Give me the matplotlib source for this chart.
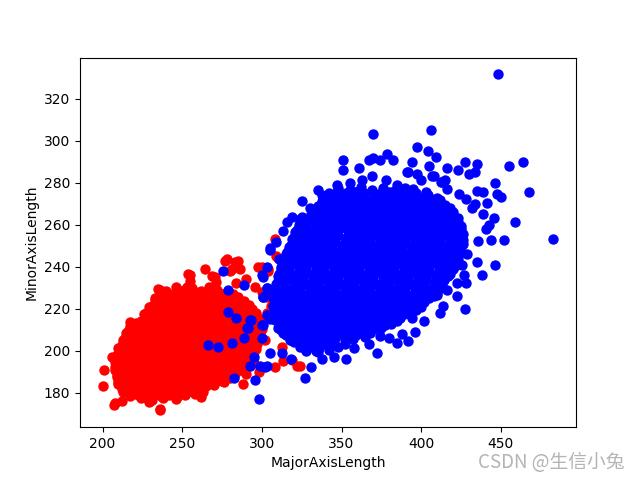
import matplotlib.pyplot as plt

# Kecimen (red) - dense core, row by row
red_core = [
    (235, 229.5), (240, 228.4), (246, 230.1), (251, 228.8), (256, 229.6), (262, 228.3), (267, 230.2), (272, 229),
    (234, 224.8), (239, 226.3), (244, 225.1), (250, 225.8), (255, 224.6), (260, 226.4), (265, 225.2),
    (270, 225.9), (275, 224.9), (280, 226.1), (285, 225.3),
    (231, 221.3), (236, 222.7), (241, 221.6), (246, 222.3), (251, 221.1), (257, 222.6), (262, 221.5),
    (267, 222.8), (272, 221.4), (277, 222.2), (282, 221.7), (287, 222.5), (292, 221.6),
    (227, 217.8), (232, 219.2), (237, 218.1), (242, 218.8), (247, 217.6), (252, 219.1), (257, 218.3),
    (262, 219.4), (267, 217.9), (272, 218.6), (277, 218), (282, 219.3), (287, 218.2), (292, 218.9), (296, 217.7),
    (224, 214.3), (229, 215.6), (234, 214.7), (239, 215.3), (244, 214.2), (249, 215.8), (254, 214.6),
    (259, 215.2), (264, 214.4), (269, 215.7), (274, 214.8), (279, 215.3), (284, 214.1), (289, 215.5), (294, 214.6),
    (298, 215.2),
    (217, 211.9), (222, 210.8), (227, 212.1), (232, 211.2), (237, 211.8), (242, 210.7), (247, 212.3), (252, 211.1),
    (257, 211.7), (262, 210.9), (267, 212.2), (272, 211.4), (277, 211.9), (282, 210.8), (287, 212), (292, 211.3),
    (297, 211.8),
    (215, 208.3), (220, 207.4), (225, 208.7), (230, 207.6), (235, 208.4), (240, 207.2), (245, 208.8), (250, 207.7),
    (255, 208.2), (260, 207.5), (265, 208.6), (270, 207.3), (275, 208.5), (280, 207.9), (285, 208.4), (290, 207.4),
    (295, 208.7), (299, 207.8),
    (213, 204.9), (218, 203.8), (223, 205.1), (228, 204.2), (233, 204.8), (238, 203.7), (243, 205.3), (248, 204.1),
    (253, 204.7), (258, 203.9), (263, 205.2), (268, 204.3), (273, 204.9), (278, 203.8), (283, 205), (288, 204.2),
    (293, 204.8), (297, 203.9),
    (211, 201.4), (216, 200.3), (221, 201.6), (226, 200.7), (231, 201.2), (236, 200.1), (241, 201.7), (246, 200.6),
    (251, 201.3), (256, 200.4), (261, 201.5), (266, 200.8), (271, 201.3), (276, 200.2), (281, 201.6), (286, 200.5),
    (291, 201.1), (296, 200.6),
    (209, 197.9), (214, 196.8), (219, 198.1), (224, 197.2), (229, 197.8), (234, 196.7), (239, 198.3), (244, 197.1),
    (249, 197.7), (254, 196.9), (259, 198.2), (264, 197.3), (269, 197.9), (274, 196.8), (279, 198), (284, 197.2),
    (289, 197.7), (294, 196.9),
    (208, 194.4), (213, 193.3), (218, 194.6), (223, 193.7), (228, 194.2), (233, 193.1), (238, 194.7), (243, 193.6),
    (248, 194.3), (253, 193.4), (258, 194.5), (263, 193.8), (268, 194.3), (273, 193.2), (278, 194.6), (283, 193.5),
    (288, 194.1), (291, 193.4),
    (208, 190.9), (213, 189.8), (218, 191.1), (223, 190.2), (228, 190.8), (233, 189.7), (238, 191.3), (243, 190.1),
    (248, 190.7), (253, 189.9), (258, 191.2), (263, 190.3), (268, 190.9), (273, 189.8), (278, 191), (283, 190.2),
    (286, 190.9),
    (209, 187.4), (214, 186.3), (219, 187.6), (224, 186.7), (229, 187.2), (234, 186.1), (239, 187.7), (244, 186.6),
    (249, 187.3), (254, 186.4), (259, 187.5), (264, 186.8), (269, 187.3), (274, 186.2), (280, 187.1),
    (210, 183.9), (215, 182.8), (220, 184.1), (225, 183.2), (230, 183.8), (235, 182.7), (240, 184.3), (245, 183.1),
    (250, 183.7), (255, 182.9), (260, 184.2), (265, 183.3), (270, 183.8),
    (213, 180.4), (218, 179.3), (223, 180.6), (228, 179.7), (233, 180.2), (238, 179.1), (243, 180.7), (248, 179.6),
    (253, 180.3), (258, 179.4),
    (224, 177.2), (231, 176.5), (238, 177.6), (246, 176.8),
]

# Kecimen (red) - points lying between the rows above
red_fill = [
    (237, 227.8), (242, 226.9), (248, 227.6), (253, 227.1), (258, 227.9), (263, 226.8), (268, 227.5),
    (273, 227.2), (278, 227.7), (282, 226.9),
    (233, 224.2), (238, 223.4), (243, 224.1), (248, 223.6), (254, 224.3), (259, 223.3), (264, 224),
    (269, 223.7), (274, 224.2), (279, 223.4), (284, 224), (289, 223.6),
    (229, 220.7), (234, 219.9), (239, 220.6), (244, 220.1), (249, 220.8), (254, 219.8), (259, 220.5),
    (264, 220.2), (269, 220.7), (274, 219.9), (279, 220.5), (284, 220.1), (289, 220.6), (294, 220),
    (226, 217.2), (231, 216.4), (236, 217.1), (241, 216.6), (246, 217.3), (251, 216.3), (256, 217),
    (261, 216.7), (266, 217.2), (271, 216.4), (276, 217), (281, 216.6), (286, 217.1), (291, 216.5), (296, 217),
    (221, 213.2), (228, 212.9), (233, 213.6), (238, 213.1), (243, 213.8), (248, 212.8), (253, 213.5),
    (258, 213.2), (263, 213.7), (268, 212.9), (273, 213.5), (278, 213.1), (283, 213.6), (288, 213), (293, 213.5),
    (298, 213.1),
    (216, 209.5), (221, 210.2), (226, 209.4), (231, 210.1), (236, 209.6), (241, 210.3), (246, 209.3), (251, 210),
    (256, 209.7), (261, 210.2), (266, 209.4), (271, 210), (276, 209.6), (281, 210.1), (286, 209.5), (291, 210),
    (296, 209.6), (300, 210.1),
    (214, 206), (219, 206.7), (224, 205.9), (229, 206.6), (234, 206.1), (239, 206.8), (244, 205.8), (249, 206.5),
    (254, 206.2), (259, 206.7), (264, 205.9), (269, 206.5), (274, 206.1), (279, 206.6), (284, 206), (289, 206.5),
    (294, 206.1), (298, 206.6),
    (212, 202.5), (217, 203.2), (222, 202.4), (227, 203.1), (232, 202.6), (237, 203.3), (242, 202.3), (247, 203),
    (252, 202.7), (257, 203.2), (262, 202.4), (267, 203), (272, 202.6), (277, 203.1), (282, 202.5), (287, 203),
    (292, 202.6), (297, 203.1),
    (210, 199), (215, 199.7), (220, 198.9), (225, 199.6), (230, 199.1), (235, 199.8), (240, 198.8), (245, 199.5),
    (250, 199.2), (255, 199.7), (260, 198.9), (265, 199.5), (270, 199.1), (275, 199.6), (280, 199), (285, 199.5),
    (290, 199.1), (295, 199.6),
    (209, 195.5), (214, 196.2), (219, 195.4), (224, 196.1), (229, 195.6), (234, 196.3), (239, 195.3), (244, 196),
    (249, 195.7), (254, 196.2), (259, 195.4), (264, 196), (269, 195.6), (274, 196.1), (279, 195.5), (284, 196),
    (289, 195.6), (292, 196.1),
    (208, 192), (213, 192.7), (218, 191.9), (223, 192.6), (228, 192.1), (233, 192.8), (238, 191.8), (243, 192.5),
    (248, 192.2), (253, 192.7), (258, 191.9), (263, 192.5), (268, 192.1), (273, 192.6), (278, 192), (283, 192.5),
    (289, 192.1),
    (209, 188.5), (214, 189.2), (219, 188.4), (224, 189.1), (229, 188.6), (234, 189.3), (239, 188.3), (244, 189),
    (249, 188.7), (254, 189.2), (259, 188.4), (264, 189), (269, 188.6), (274, 189.1), (279, 188.5), (283, 189),
    (210, 185), (215, 185.7), (220, 184.9), (225, 185.6), (230, 185.1), (235, 185.8), (240, 184.8), (245, 185.5),
    (250, 185.2), (255, 185.7), (260, 184.9), (265, 185.5), (270, 185.1), (275, 185.6),
    (212, 181.5), (217, 182.2), (222, 181.4), (227, 182.1), (232, 181.6), (237, 182.3), (242, 181.3), (247, 182),
    (252, 181.7), (257, 182.2), (262, 181.4),
    (217, 178.2), (222, 178.9), (227, 178.1), (232, 178.8), (237, 178.3), (242, 178.9), (247, 178), (252, 178.6),
]

# Kecimen (red) - outer points
red_edge = [
    (200, 183), (201, 190.6), (207.5, 174), (212.5, 176), (217.5, 213.6), (210, 201), (236, 171.5), (229, 175.7),
    (245.6, 178.6), (263, 180.5), (269, 186), (288, 184.3), (277, 242.5), (285, 242.5), (255, 236), (236, 229),
    (247.5, 228), (233, 225), (270.6, 235), (300, 239.6), (304, 237.7), (308, 192), (322, 192.5), (313, 195),
    (312.5, 201.6), (308, 253), (304, 238.6), (306.9, 220.9), (310, 244), (280, 238), (290, 234),
    (264, 239), (300, 228), (303, 218), (302, 205), (298, 190), (215, 205), (206, 197), (324, 192.5),
    (253.8, 236.3), (255, 233), (253, 230.5), (269, 235.3), (271, 232.7), (278, 243.5), (283, 242), (286, 238.7),
    (281, 238.7), (297.5, 239.6), (309, 245), (284, 232.4), (295.6, 230.5), (303, 225.7), (306, 221), (303, 216),
    (208, 175), (230, 176), (236, 172.3), (257, 182), (268.8, 185.8), (318.8, 195.4), (216, 203.6), (283, 190.6),
    (295, 194), (290, 189), (276, 185), (262, 178),
]

# Besni (blue) - dense core, row by row
blue_core = [
    (348, 277.4), (355, 276.3), (362, 277.8), (369, 276.6), (376, 277.2), (383, 276.1), (390, 277.6), (395, 276.8),
    (338, 273.9), (343, 272.8), (349, 274.1), (354, 273.2), (360, 273.8), (365, 272.7), (371, 274.3), (376, 273.1),
    (382, 273.7), (387, 272.9), (393, 274.2), (398, 273.3), (404, 273.9), (410, 272.8),
    (337, 269.3), (343, 270.6), (348, 269.7), (354, 270.2), (359, 269.1), (365, 270.7), (370, 269.6),
    (376, 270.3), (381, 269.4), (387, 270.5), (392, 269.8), (398, 270.3), (403, 269.2), (409, 270.6), (415, 269.5),
    (333, 265.8), (339, 267.1), (344, 266.2), (350, 266.8), (355, 265.7), (361, 267.3), (366, 266.1),
    (372, 266.7), (377, 265.9), (383, 267.2), (388, 266.3), (394, 266.9), (399, 265.8), (405, 267), (410, 266.2),
    (415, 266.7), (420, 265.9),
    (325, 263.4), (330, 262.3), (336, 263.6), (341, 262.7), (347, 263.2), (352, 262.1), (358, 263.7), (363, 262.6),
    (369, 263.3), (374, 262.4), (380, 263.5), (385, 262.8), (391, 263.3), (396, 262.2), (402, 263.6), (407, 262.5),
    (413, 263.1), (418, 262.6), (423, 263.2),
    (323, 259.9), (328, 258.8), (334, 260.1), (339, 259.2), (345, 259.8), (350, 258.7), (356, 260.3), (361, 259.1),
    (367, 259.7), (372, 258.9), (378, 260.2), (383, 259.3), (389, 259.9), (394, 258.8), (400, 260), (405, 259.2),
    (411, 259.7), (416, 258.9), (421, 260.1), (425, 259.3),
    (321, 256.4), (326, 255.3), (332, 256.6), (337, 255.7), (343, 256.2), (348, 255.1), (354, 256.7), (359, 255.6),
    (365, 256.3), (370, 255.4), (376, 256.5), (381, 255.8), (387, 256.3), (392, 255.2), (398, 256.6), (403, 255.5),
    (409, 256.1), (414, 255.6), (420, 256.2), (426, 255.5),
    (319, 252.9), (324, 251.8), (330, 253.1), (335, 252.2), (341, 252.8), (346, 251.7), (352, 253.3), (357, 252.1),
    (363, 252.7), (368, 251.9), (374, 253.2), (379, 252.3), (385, 252.9), (390, 251.8), (396, 253), (401, 252.2),
    (407, 252.7), (412, 251.9), (418, 253.1), (423, 252.3), (426, 252.8),
    (317, 249.4), (322, 248.3), (328, 249.6), (333, 248.7), (339, 249.2), (344, 248.1), (350, 249.7), (355, 248.6),
    (361, 249.3), (366, 248.4), (372, 249.5), (377, 248.8), (383, 249.3), (388, 248.2), (394, 249.6), (399, 248.5),
    (405, 249.1), (410, 248.6), (416, 249.2), (421, 248.5), (425, 249.3),
    (315, 245.9), (320, 244.8), (326, 246.1), (331, 245.2), (337, 245.8), (342, 244.7), (348, 246.3), (353, 245.1),
    (359, 245.7), (364, 244.9), (370, 246.2), (375, 245.3), (381, 245.9), (386, 244.8), (392, 246), (397, 245.2),
    (403, 245.7), (408, 244.9), (414, 246.1), (419, 245.3), (424, 245.8),
    (313, 242.4), (318, 241.3), (324, 242.6), (329, 241.7), (335, 242.2), (340, 241.1), (346, 242.7), (351, 241.6),
    (357, 242.3), (362, 241.4), (368, 242.5), (373, 241.8), (379, 242.3), (384, 241.2), (390, 242.6), (395, 241.5),
    (401, 242.1), (406, 241.6), (412, 242.2), (417, 241.5), (422, 242.3),
    (312, 238.9), (317, 237.8), (323, 239.1), (328, 238.2), (334, 238.8), (339, 237.7), (345, 239.3), (350, 238.1),
    (356, 238.7), (361, 237.9), (367, 239.2), (372, 238.3), (378, 238.9), (383, 237.8), (389, 239), (394, 238.2),
    (400, 238.7), (405, 237.9), (411, 239.1), (416, 238.3), (420, 238.8),
    (310, 235.4), (315, 234.3), (321, 235.6), (326, 234.7), (332, 235.2), (337, 234.1), (343, 235.7), (348, 234.6),
    (354, 235.3), (359, 234.4), (365, 235.5), (370, 234.8), (376, 235.3), (381, 234.2), (387, 235.6), (392, 234.5),
    (398, 235.1), (403, 234.6), (409, 235.2), (414, 234.5), (417, 235.3),
    (309, 231.9), (314, 230.8), (320, 232.1), (325, 231.2), (331, 231.8), (336, 230.7), (342, 232.3), (347, 231.1),
    (353, 231.7), (358, 230.9), (364, 232.2), (369, 231.3), (375, 231.9), (380, 230.8), (386, 232), (391, 231.2),
    (397, 231.7), (402, 230.9), (408, 232.1), (413, 231.3),
    (308, 228.4), (313, 227.3), (319, 228.6), (324, 227.7), (330, 228.2), (335, 227.1), (341, 228.7), (346, 227.6),
    (352, 228.3), (357, 227.4), (363, 228.5), (368, 227.8), (374, 228.3), (379, 227.2), (385, 228.6), (390, 227.5),
    (396, 228.1), (401, 227.6), (406, 228.2), (410, 227.5),
    (307, 224.9), (312, 223.8), (318, 225.1), (323, 224.2), (329, 224.8), (334, 223.7), (340, 225.3), (345, 224.1),
    (351, 224.7), (356, 223.9), (362, 225.2), (367, 224.3), (373, 224.9), (378, 223.8), (384, 225), (389, 224.2),
    (395, 224.7), (400, 223.9), (405, 224.8),
    (307, 221.4), (312, 220.3), (318, 221.6), (323, 220.7), (329, 221.2), (334, 220.1), (340, 221.7), (345, 220.6),
    (351, 221.3), (356, 220.4), (362, 221.5), (367, 220.8), (373, 221.3), (378, 220.2), (384, 221.6), (389, 220.5),
    (395, 221.1), (400, 220.6),
    (307, 217.9), (312, 216.8), (318, 218.1), (323, 217.2), (329, 217.8), (334, 216.7), (340, 218.3), (345, 217.1),
    (351, 217.7), (356, 216.9), (362, 218.2), (367, 217.3), (373, 217.9), (378, 216.8), (384, 218), (389, 217.2),
    (393, 217.7),
    (308, 214.4), (313, 213.3), (319, 214.6), (324, 213.7), (330, 214.2), (335, 213.1), (341, 214.7), (346, 213.6),
    (352, 214.3), (357, 213.4), (363, 214.5), (368, 213.8), (374, 214.3), (379, 213.2), (385, 214.1),
    (310, 210.9), (315, 209.8), (321, 211.1), (326, 210.2), (332, 210.8), (337, 209.7), (343, 211.3), (348, 210.1),
    (354, 210.7), (359, 209.9), (365, 211.2), (370, 210.3), (375, 210.8),
    (315, 207.4), (320, 206.3), (326, 207.6), (331, 206.7), (337, 207.2), (342, 206.1), (348, 207.7), (353, 206.6),
    (359, 207.3), (365, 206.5),
    (320, 203.9), (326, 202.8), (332, 204.1), (338, 203.2), (345, 203.8), (352, 202.9),
    (328, 200.3), (335, 199.4), (342, 200.5),
]

# Besni (blue) - points lying between the rows above
blue_fill = [
    (342, 275), (347, 275.7), (353, 274.9), (358, 275.6), (364, 275.1), (369, 275.8), (375, 274.8), (380, 275.5),
    (386, 275.2), (391, 275.7), (397, 274.9), (403, 275.4),
    (340, 272.2), (346, 271.4), (351, 272.1), (357, 271.6), (362, 272.3), (368, 271.3), (373, 272),
    (379, 271.7), (384, 272.2), (390, 271.4), (395, 272), (401, 271.6), (406, 272.1), (412, 271.5),
    (335, 268.7), (341, 267.9), (346, 268.6), (352, 268.1), (357, 268.8), (363, 267.8), (368, 268.5),
    (374, 268.2), (379, 268.7), (385, 267.9), (390, 268.5), (396, 268.1), (401, 268.6), (407, 268), (412, 268.5),
    (418, 268.1),
    (331, 265.2), (337, 264.4), (342, 265.1), (348, 264.6), (353, 265.3), (359, 264.3), (364, 265),
    (370, 264.7), (375, 265.2), (381, 264.4), (386, 265), (392, 264.6), (397, 265.1), (403, 264.5), (408, 265),
    (414, 264.6), (419, 265.1),
    (324, 261), (329, 261.7), (335, 260.9), (340, 261.6), (346, 261.1), (351, 261.8), (357, 260.8), (362, 261.5),
    (368, 261.2), (373, 261.7), (379, 260.9), (384, 261.5), (390, 261.1), (395, 261.6), (401, 261), (406, 261.5),
    (412, 261.1), (417, 261.6), (423, 261),
    (322, 257.5), (327, 258.2), (333, 257.4), (338, 258.1), (344, 257.6), (349, 258.3), (355, 257.3), (360, 258),
    (366, 257.7), (371, 258.2), (377, 257.4), (382, 258), (388, 257.6), (393, 258.1), (399, 257.5), (404, 258),
    (410, 257.6), (415, 258.1), (421, 257.5), (425, 258),
    (320, 254), (325, 254.7), (331, 253.9), (336, 254.6), (342, 254.1), (347, 254.8), (353, 253.8), (358, 254.5),
    (364, 254.2), (369, 254.7), (375, 253.9), (380, 254.5), (386, 254.1), (391, 254.6), (397, 254), (402, 254.5),
    (408, 254.1), (413, 254.6), (419, 254), (424, 254.5),
    (318, 250.5), (323, 251.2), (329, 250.4), (334, 251.1), (340, 250.6), (345, 251.3), (351, 250.3), (356, 251),
    (362, 250.7), (367, 251.2), (373, 250.4), (378, 251), (384, 250.6), (389, 251.1), (395, 250.5), (400, 251),
    (406, 250.6), (411, 251.1), (417, 250.5), (422, 251), (426, 250.6),
    (316, 247), (321, 247.7), (327, 246.9), (332, 247.6), (338, 247.1), (343, 247.8), (349, 246.8), (354, 247.5),
    (360, 247.2), (365, 247.7), (371, 246.9), (376, 247.5), (382, 247.1), (387, 247.6), (393, 247), (398, 247.5),
    (404, 247.1), (409, 247.6), (415, 247), (420, 247.5), (425, 247.1),
    (314, 243.5), (319, 244.2), (325, 243.4), (330, 244.1), (336, 243.6), (341, 244.3), (347, 243.3), (352, 244),
    (358, 243.7), (363, 244.2), (369, 243.4), (374, 244), (380, 243.6), (385, 244.1), (391, 243.5), (396, 244),
    (402, 243.6), (407, 244.1), (413, 243.5), (418, 244), (423, 243.6),
    (312, 240), (317, 240.7), (323, 239.9), (328, 240.6), (334, 240.1), (339, 240.8), (345, 239.8), (350, 240.5),
    (356, 240.2), (361, 240.7), (367, 239.9), (372, 240.5), (378, 240.1), (383, 240.6), (389, 240), (394, 240.5),
    (400, 240.1), (405, 240.6), (411, 240), (416, 240.5), (421, 240.1),
    (311, 236.5), (316, 237.2), (322, 236.4), (327, 237.1), (333, 236.6), (338, 237.3), (344, 236.3), (349, 237),
    (355, 236.7), (360, 237.2), (366, 236.4), (371, 237), (377, 236.6), (382, 237.1), (388, 236.5), (393, 237),
    (399, 236.6), (404, 237.1), (410, 236.5), (415, 237), (418, 236.6),
    (310, 233), (315, 233.7), (321, 232.9), (326, 233.6), (332, 233.1), (337, 233.8), (343, 232.8), (348, 233.5),
    (354, 233.2), (359, 233.7), (365, 232.9), (370, 233.5), (376, 233.1), (381, 233.6), (387, 233), (392, 233.5),
    (398, 233.1), (403, 233.6), (409, 233), (414, 233.5),
    (308, 229.5), (313, 230.2), (319, 229.4), (324, 230.1), (330, 229.6), (335, 230.3), (341, 229.3), (346, 230),
    (352, 229.7), (357, 230.2), (363, 229.4), (368, 230), (374, 229.6), (379, 230.1), (385, 229.5), (390, 230),
    (396, 229.6), (401, 230.1), (407, 229.5), (412, 230),
    (310, 226), (315, 226.7), (321, 225.9), (326, 226.6), (332, 226.1), (337, 226.8), (343, 225.8), (348, 226.5),
    (354, 226.2), (359, 226.7), (365, 225.9), (370, 226.5), (376, 226.1), (381, 226.6), (387, 226), (392, 226.5),
    (398, 226.1), (403, 226.6), (408, 226),
    (309, 222.5), (314, 223.2), (320, 222.4), (325, 223.1), (331, 222.6), (336, 223.3), (342, 222.3), (347, 223),
    (353, 222.7), (358, 223.2), (364, 222.4), (369, 223), (375, 222.6), (380, 223.1), (386, 222.5), (391, 223),
    (397, 222.6), (402, 223.1),
    (309, 219), (314, 219.7), (320, 218.9), (325, 219.6), (331, 219.1), (336, 219.8), (342, 218.8), (347, 219.5),
    (353, 219.2), (358, 219.7), (364, 218.9), (369, 219.5), (375, 219.1), (380, 219.6), (386, 219), (391, 219.5),
    (397, 219.1),
    (310, 215.5), (315, 216.2), (321, 215.4), (326, 216.1), (332, 215.6), (337, 216.3), (343, 215.3), (348, 216),
    (354, 215.7), (359, 216.2), (365, 215.4), (370, 216), (376, 215.6), (381, 216.1), (387, 215.5),
    (311, 212), (316, 212.7), (322, 211.9), (327, 212.6), (333, 212.1), (338, 212.8), (344, 211.8), (349, 212.5),
    (355, 212.2), (360, 212.7), (366, 211.9), (371, 212.5), (377, 212.1), (381, 212.6),
    (313, 208.5), (318, 209.2), (324, 208.4), (329, 209.1), (335, 208.6), (340, 209.3), (346, 208.3), (351, 209),
    (357, 208.7), (362, 209.2), (368, 208.4),
    (318, 205), (323, 205.7), (329, 204.9), (334, 205.6), (340, 205.1), (346, 205.8), (352, 204.8), (357, 205.5),
    (324, 201.5), (330, 202.2), (336, 201.4), (342, 202.1), (348, 201.6),
]

# Besni (blue) - outer points
blue_edge = [
    (448, 331.5), (370, 303), (406, 305), (397.5, 296.8), (404, 295), (409, 292), (351, 290.6), (351, 286),
    (361, 286.7), (367, 290.6), (370, 291.5), (374, 290.6), (378.6, 293.5), (382, 290.6), (394, 290), (392, 285),
    (397.5, 284), (405, 287.7), (408, 283), (416, 287), (423, 286), (427.5, 290), (435, 288.6), (430, 284.3),
    (434, 285), (455, 287.7), (464, 290), (446, 280), (467.5, 275.7), (447.5, 274.7), (450, 273), (435, 276),
    (439, 275.7), (432, 268), (434, 270), (441, 270.4), (439, 265), (445.6, 263), (440.6, 258), (442.5, 260),
    (458.8, 261), (483, 253), (452, 252.6), (443.8, 252.6), (435.6, 252), (428.8, 246), (435, 242), (446, 240.6),
    (438, 236), (425.6, 240.6), (426.9, 236), (428, 232), (422.5, 232.4), (422.5, 226), (416, 229), (427.5, 220),
    (413.8, 221), (411.9, 218), (402, 214), (410, 226.6),
    (378, 281), (369, 283), (363, 281), (360, 275.7), (335, 276.6), (344, 272.8), (338, 271), (325, 271.3),
    (319, 263.6), (324, 262.7), (324, 258), (337.5, 265.6), (322, 252), (328, 254.5), (305, 248), (309, 251.6),
    (318, 246), (412.5, 280.5), (416, 277), (424, 274.7), (428, 272), (415, 281), (400, 281), (385, 279),
    (355, 280), (347, 279), (330, 268), (327, 260), (313, 257), (316, 261), (303, 240),
    (359, 275.7), (353, 272.3), (346.9, 272.3), (360, 270), (413, 280.5), (407, 283), (391, 285),
    (311, 243.5), (318.8, 245.9),
    (352.5, 195.9), (372.5, 199), (385, 203.6), (392, 204.5), (374, 207), (327, 186.7), (318, 196), (331, 192),
    (328, 200), (334, 200), (394, 215.6), (381, 215.6), (374, 214.6), (396, 209), (388, 208), (380, 206),
    (367, 203), (358, 201), (345, 197), (338, 196), (312, 210), (305, 215),
    (305, 248.8), (301, 235), (303, 230), (301, 225.7), (307, 226.6), (301, 212), (300, 206), (302, 192),
    (305, 198.7), (312.5, 199), (317.5, 205), (292.5, 192.5), (299, 192.5), (303, 192.5),
    (275.6, 238), (278.8, 229), (288.8, 231), (278.8, 218.5), (283.8, 215.6), (266, 202.6), (272.5, 201.6),
    (281, 203.6), (282.5, 187), (295.6, 186), (298, 177), (293, 214.6), (291, 210.7), (289, 206), (295, 196.8),
    (300, 236), (300.6, 225.7), (303, 230), (300, 212), (303, 217), (290.6, 210.8), (292.5, 214.6),
]

red_pts = red_core + red_fill + red_edge
blue_pts = blue_core + blue_fill + blue_edge
red_x = [p[0] for p in red_pts]
red_y = [p[1] for p in red_pts]
blue_x = [p[0] for p in blue_pts]
blue_y = [p[1] for p in blue_pts]

fig = plt.figure(figsize=(6.4, 4.8), dpi=100)
plt.scatter(red_x, red_y, c='red', s=42)
plt.scatter(blue_x, blue_y, c='blue', s=42)
plt.xlabel('MajorAxisLength')
plt.ylabel('MinorAxisLength')

# watermark in the bottom-right corner
fig.text(0.976, 0.026, 'CSDN @生信小兔', ha='right', va='baseline', fontsize=13.5,
         color='#b4b4b4', family=['Noto Sans CJK SC', 'DejaVu Sans'])

plt.savefig('out.png', dpi=100)
